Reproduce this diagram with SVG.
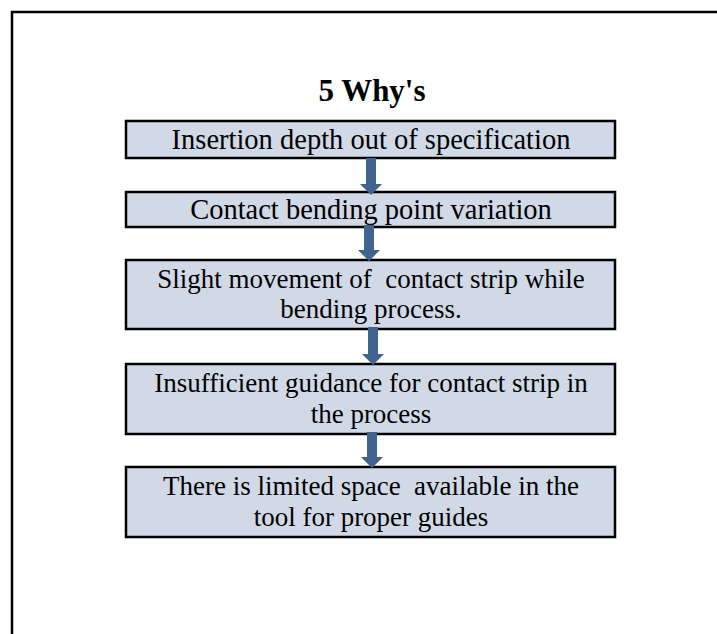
<svg xmlns="http://www.w3.org/2000/svg" width="717" height="634" viewBox="0 0 717 634">
<style>
.box{fill:#D1D9E7;stroke:#000;stroke-width:2.5}
.t{font-family:"Liberation Serif","Times New Roman",serif;font-size:27px;fill:#000;text-anchor:middle;white-space:pre}
.big{font-size:28.5px}
.title{font-family:"Liberation Serif","Times New Roman",serif;font-size:31px;font-weight:bold;fill:#000;text-anchor:middle}
.arr{fill:#41638F}
</style>
<rect width="717" height="634" fill="#fff"/>
<path d="M12 634 V12 H717" fill="none" stroke="#000" stroke-width="2.5"/>
<text class="title" x="372" y="101">5 Why's</text>
<g id="n1"><rect class="box" x="126" y="121" width="489" height="37"/><text class="t big" x="371" y="149">Insertion depth out of specification</text></g>
<g id="n2"><rect class="box" x="126" y="192" width="489" height="35"/><text class="t big" x="371" y="219">Contact bending point variation</text></g>
<g id="n3"><rect class="box" x="126" y="260" width="489" height="69"/><text class="t" x="371" y="288">Slight movement of  contact strip while</text><text class="t" x="371" y="318">bending process.</text></g>
<g id="n4"><rect class="box" x="126" y="364" width="489" height="70"/><text class="t" x="371" y="392">Insufficient guidance for contact strip in</text><text class="t" x="371" y="423">the process</text></g>
<g id="n5"><rect class="box" x="126" y="467" width="489" height="70"/><text class="t" x="371" y="495">There is limited space  available in the</text><text class="t" x="371" y="526">tool for proper guides</text></g>
<g id="connectors">
<path class="arr" d="M366 158 H376 V184 H382 L371 195 L360 184 H366 Z"/>
<path class="arr" d="M364 225 H374 V250 H380 L369 261 L358 250 H364 Z"/>
<path class="arr" d="M368 327 H378 V354 H384 L373 365 L362 354 H368 Z"/>
<path class="arr" d="M367 432 H377 V457 H383 L372 468 L361 457 H367 Z"/>
</g>
</svg>
